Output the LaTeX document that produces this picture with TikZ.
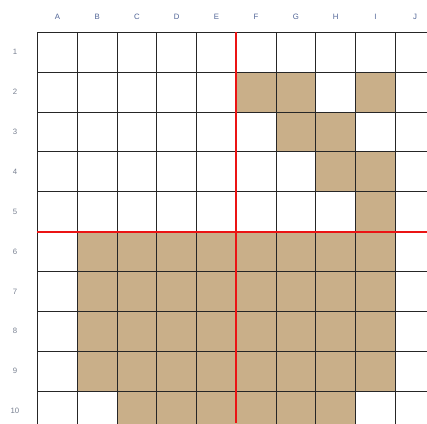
\documentclass[tikz,border=0pt]{standalone}
\usepackage{fontspec}
\setmainfont{Liberation Sans}
\definecolor{sand}{RGB}{201,175,137}
\definecolor{collabel}{RGB}{80,100,150}
\definecolor{rowlabel}{RGB}{120,128,145}
\definecolor{splitred}{RGB}{235,20,20}

\begin{document}
\begin{tikzpicture}[x=39.75bp,y=-39.85bp,cell/.style={fill=sand},gridline/.style={draw=black!85,line width=0.9bp},redline/.style={draw=splitred,line width=1.9bp}]
\useasboundingbox (-0.943,-0.811) rectangle (9.799,9.804);
\begin{scope}
\clip (-0.943,-0.811) rectangle (9.799,9.804);
\foreach \c [count=\i] in {A,B,C,D,E,F,G,H,I,J}
  \node[inner sep=0pt,text=collabel,font=\fontsize{7.8pt}{9pt}\selectfont] (col\c) at (\i-0.5,-0.39) {\c};
\foreach \r in {1,...,10}
  \node[inner sep=0pt,text=rowlabel,font=\fontsize{7.8pt}{9pt}\selectfont] (row\r) at (-0.566,\r-0.5) {\r};
% shaded cells, column/row
\foreach \i/\r in {6/2,7/2,9/2,7/3,8/3,8/4,9/4,9/5,3/10,4/10,5/10,6/10,7/10,8/10}
  \fill[cell] (\i-1,\r-1) rectangle (\i,\r);
\foreach \r in {6,...,9}
  \foreach \i in {2,...,9}
    \fill[cell] (\i-1,\r-1) rectangle (\i,\r);
\foreach \k in {0,1,2,3,4,6,7,8,9,10}
  \draw[gridline] (0,\k) -- (10.5,\k);
\foreach \k in {0,1,2,3,4,6,7,8,9,10}
  \draw[gridline] (\k,0) -- (\k,10.5);
\end{scope}
\coordinate (midW) at (0,5);
\coordinate (midE) at (9.799,5);
\coordinate (midN) at (5,0);
\coordinate (midS) at (5,9.804);
\draw[redline] (midN) -- (midS) (midW) -- (midE);
\end{tikzpicture}
\end{document}
